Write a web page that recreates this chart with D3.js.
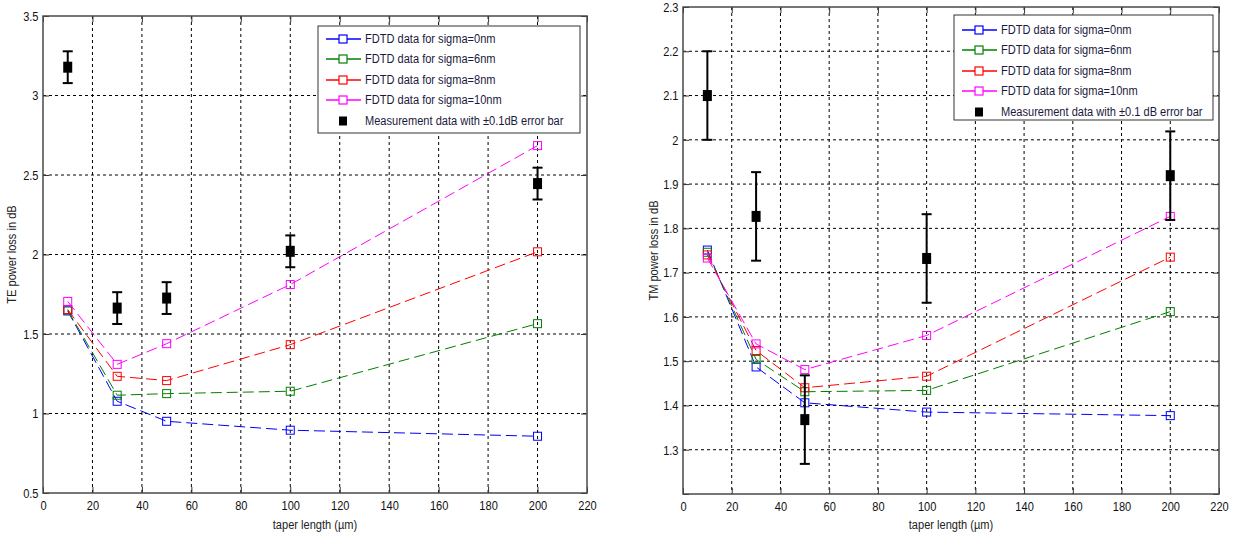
<!DOCTYPE html>
<html>
<head>
<meta charset="utf-8">
<script src="https://cdn.jsdelivr.net/npm/d3@7"></script>
<style>
  body { margin: 0; background: #fff; }
  svg text { font-family: "Liberation Sans", Arial, sans-serif; }
</style>
</head>
<body>
<div id="chart"></div>
<script>
// taper lengths (um) where FDTD and measurements were taken
var taperLength = [10, 30, 50, 100, 200];
var seriesLabels = ["FDTD data for sigma=0nm", "FDTD data for sigma=6nm",
                    "FDTD data for sigma=8nm", "FDTD data for sigma=10nm"];
var seriesColors = ["#0000ff", "#008000", "#ff0000", "#ff00ff"];

// TE
var teSigma0  = [1.645, 1.077, 0.951, 0.895, 0.857];
var teSigma6  = [1.650, 1.115, 1.125, 1.140, 1.565];
var teSigma8  = [1.654, 1.234, 1.207, 1.433, 2.017];
var teSigma10 = [1.705, 1.309, 1.439, 1.811, 2.685];
var teMeasured = [3.178, 1.663, 1.726, 2.020, 2.446];

// TM
var tmSigma0  = [1.751, 1.487, 1.406, 1.385, 1.377];
var tmSigma6  = [1.746, 1.504, 1.431, 1.434, 1.612];
var tmSigma8  = [1.740, 1.524, 1.440, 1.466, 1.735];
var tmSigma10 = [1.733, 1.539, 1.481, 1.558, 1.827];
var tmMeasured = [2.100, 1.827, 1.368, 1.732, 1.919];

var errorBar = 0.1;

var xTicks = [0, 20, 40, 60, 80, 100, 120, 140, 160, 180, 200, 220];
var teTicks = [0.5, 1, 1.5, 2, 2.5, 3, 3.5];
var tmTicks = [1.2, 1.3, 1.4, 1.5, 1.6, 1.7, 1.8, 1.9, 2.0, 2.1, 2.2, 2.3];

var fontSize = 13.5;
var squeeze = 0.82; // matlab text looks condensed

var svg = d3.select("#chart").append("svg")
    .attr("width", 1234)
    .attr("height", 538);

function drawPanel(cfg) {
    var x = d3.scaleLinear().domain([0, 220]).range([cfg.left, cfg.right]);
    var y = d3.scaleLinear().domain(cfg.yDomain).range([cfg.bottom, cfg.top]);
    var w = cfg.right - cfg.left, h = cfg.bottom - cfg.top;
    var g = svg.append("g");

    // grid
    g.append("g").selectAll("line").data(xTicks.slice(1, -1)).enter().append("line")
        .attr("x1", d => x(d)).attr("x2", d => x(d))
        .attr("y1", cfg.top).attr("y2", cfg.bottom)
        .style("stroke", "#000").attr("stroke-width", 1).attr("stroke-dasharray", "3,3");
    g.append("g").selectAll("line").data(cfg.yTicks.slice(1, -1)).enter().append("line")
        .attr("y1", d => y(d)).attr("y2", d => y(d))
        .attr("x1", cfg.left).attr("x2", cfg.right)
        .style("stroke", "#000").attr("stroke-width", 1).attr("stroke-dasharray", "3,3");

    // axes, ticks inward
    var fmt = d3.format("");
    g.append("g").attr("transform", "translate(0," + cfg.bottom + ")")
        .call(d3.axisBottom(x).tickValues(xTicks).tickSizeInner(-6).tickSizeOuter(0).tickPadding(7).tickFormat(fmt));
    g.append("g").attr("transform", "translate(" + cfg.left + ",0)")
        .call(d3.axisLeft(y).tickValues(cfg.yTicks).tickSizeInner(-6).tickSizeOuter(0).tickPadding(5.5)
            .tickFormat(d => cfg.hideFirst && d === cfg.yTicks[0] ? "" : fmt(d)));
    g.append("g").attr("transform", "translate(0," + cfg.top + ")")
        .call(d3.axisTop(x).tickValues(xTicks).tickSizeInner(-6).tickSizeOuter(0).tickFormat(""));
    g.append("g").attr("transform", "translate(" + cfg.right + ",0)")
        .call(d3.axisRight(y).tickValues(cfg.yTicks).tickSizeInner(-6).tickSizeOuter(0).tickFormat(""));
    g.selectAll(".domain").remove();
    g.selectAll(".tick line").style("stroke", "#333");
    g.selectAll(".tick text")
        .attr("font-size", fontSize).style("fill", "#111")
        .attr("transform", "scale(" + squeeze + ",1)");

    g.append("rect")
        .attr("x", cfg.left).attr("y", cfg.top).attr("width", w).attr("height", h)
        .style("fill", "none").style("stroke", "#4a4a4a").attr("stroke-width", 1.5);

    // FDTD series
    var line = d3.line().x((d, i) => x(taperLength[i])).y(d => y(d));
    cfg.series.forEach(function(vals, k) {
        g.append("path").datum(vals)
            .attr("d", line)
            .style("fill", "none")
            .style("stroke", seriesColors[k])
            .attr("stroke-width", 1)
            .attr("stroke-dasharray", "11,5");
        g.append("g").selectAll("rect").data(vals).enter().append("rect")
            .attr("x", (d, i) => x(taperLength[i]) - 4)
            .attr("y", d => y(d) - 4)
            .attr("width", 8).attr("height", 8)
            .style("fill", "none")
            .style("stroke", seriesColors[k]).attr("stroke-width", 1);
    });

    // measurement with error bars
    var meas = g.append("g").selectAll("g").data(cfg.measured).enter().append("g");
    meas.append("line")
        .attr("x1", (d, i) => x(taperLength[i])).attr("x2", (d, i) => x(taperLength[i]))
        .attr("y1", d => y(d + errorBar)).attr("y2", d => y(d - errorBar))
        .style("stroke", "#000").attr("stroke-width", 2);
    [1, -1].forEach(function(s) {
        meas.append("line")
            .attr("x1", (d, i) => x(taperLength[i]) - 5).attr("x2", (d, i) => x(taperLength[i]) + 5)
            .attr("y1", d => y(d + s * errorBar)).attr("y2", d => y(d + s * errorBar))
            .style("stroke", "#000").attr("stroke-width", 2);
    });
    meas.append("rect")
        .attr("x", (d, i) => x(taperLength[i]) - 4.5)
        .attr("y", d => y(d) - 5.5)
        .attr("width", 9).attr("height", 11)
        .style("fill", "#000");

    // axis titles
    svg.append("text")
        .attr("transform", "translate(" + (cfg.left + cfg.right) / 2 + ",529) scale(" + squeeze + ",1)")
        .attr("text-anchor", "middle").attr("font-size", fontSize).style("fill", "#222")
        .text("taper length (\u00b5m)");
    svg.append("text")
        .attr("transform", "translate(" + cfg.yTitleX + "," + (cfg.top + cfg.bottom) / 2 + ") rotate(-90) scale(" + squeeze + ",1)")
        .attr("text-anchor", "middle").attr("dominant-baseline", "middle")
        .attr("font-size", fontSize).style("fill", "#222")
        .text(cfg.yTitle);
}

function drawLegend(L, measLabel) {
    var lg = svg.append("g");
    lg.append("rect")
        .attr("x", L.x).attr("y", L.y).attr("width", L.w).attr("height", L.h)
        .style("fill", "#fff").style("stroke", "#333").attr("stroke-width", 1);
    var rows = lg.selectAll("g.row").data(seriesLabels).enter().append("g")
        .attr("class", "row")
        .attr("transform", (d, k) => "translate(" + L.x + "," + Math.round(L.y + L.first + k * L.step) + ")");
    // slightly soft strokes, like the antialiased matlab legend
    rows.append("path")
        .attr("d", "M8,0H43")
        .attr("fill", "none")
        .attr("stroke", (d, k) => seriesColors[k]).attr("stroke-width", 1.4);
    rows.append("rect").attr("x", 21).attr("y", -4).attr("width", 8).attr("height", 8)
        .attr("fill", "#fff").attr("stroke", (d, k) => seriesColors[k]).attr("stroke-width", 1.2);
    rows.append("text")
        .attr("transform", "translate(47,0.5) scale(" + squeeze + ",1)")
        .attr("dominant-baseline", "middle")
        .attr("font-size", fontSize).attr("fill", "#1a1a40").text(d => d);
    var ym = Math.round(L.y + L.first + 4 * L.step);
    lg.append("rect").attr("x", L.x + 21).attr("y", ym - 4.5).attr("width", 8).attr("height", 9).style("fill", "#000");
    lg.append("text")
        .attr("transform", "translate(" + (L.x + 47) + "," + (ym + 0.5) + ") scale(" + squeeze + ",1)")
        .attr("dominant-baseline", "middle")
        .attr("font-size", fontSize).style("fill", "#1a1a40").text(measLabel);
}

drawPanel({
    left: 43, right: 587, top: 16, bottom: 493,
    yDomain: [0.5, 3.5], yTicks: teTicks,
    series: [teSigma0, teSigma6, teSigma8, teSigma10],
    measured: teMeasured,
    yTitle: "TE power loss in dB", yTitleX: 12
});

drawPanel({
    left: 683, right: 1219, top: 7, bottom: 494,
    yDomain: [1.2, 2.3], yTicks: tmTicks, hideFirst: true,
    series: [tmSigma0, tmSigma6, tmSigma8, tmSigma10],
    measured: tmMeasured,
    yTitle: "TM power loss in dB", yTitleX: 654
});

drawLegend({ x: 318, y: 26, w: 262, h: 107, first: 12.5, step: 20.5 },
    "Measurement data with \u00b10.1dB error bar");
drawLegend({ x: 954, y: 15, w: 259, h: 105, first: 14.5, step: 20.5 },
    "Measurement data with \u00b10.1 dB error bar");
</script>
</body>
</html>
